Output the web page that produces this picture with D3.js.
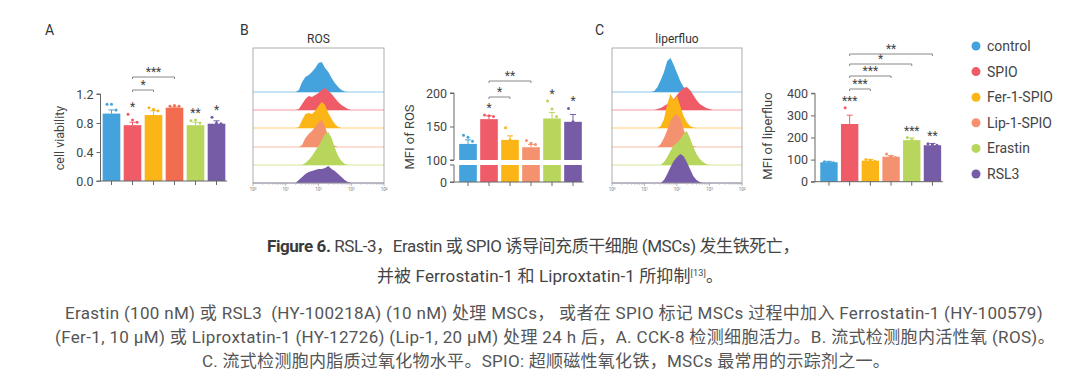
<!DOCTYPE html>
<html><head><meta charset="utf-8">
<script src="https://cdn.jsdelivr.net/npm/d3@7"></script>
<style>
body{margin:0;background:#fff;}
svg{display:block;font-family:Roboto,"Noto Sans CJK SC",sans-serif;}
text{white-space:pre;}
</style>
</head><body>
<svg id="c" width="1080" height="387"></svg>
<script>
// ---------------- DATA ----------------
const groups = ["control","SPIO","Fer-1-SPIO","Lip-1-SPIO","Erastin","RSL3"];
const colors = ["#44a3dc","#ef5c68","#fbb516","#f4916f","#b7d65b","#765ca6"];
const colorsA = ["#44a3dc","#ef5c68","#fbb516","#f26c4f","#b7d65b","#765ca6"];

// A: cell viability
const viability = [0.93,0.77,0.91,1.01,0.77,0.79];
const viabilityErr = [0.05,0.04,0.06,0.01,0.04,0.04];
const viabilityPts = [[1.06,1.06,0.98],[0.92,0.84,0.81],[1.01,0.99,0.97],[1.03,1.04,1.03],[0.83,0.84,0.80],[0.88,0.80,0.79]];
const viabilityTicks = [0,0.4,0.8,1.2];
const viabilityStars = ["","*","","","**","*"];
const viabilityBrackets = [{a:1,b:2,label:"*"},{a:1,b:3,label:"***"}];

// B: MFI of ROS
const ros = [124,161,130,119,162,157];
const rosErr = [6,5,6,4,9,11];
const rosPts = [[137,134,128],[167,166,165],[148,130,128],[129,125,123],[188,176,165],[177,157,150]];
const rosTicksUpper = [100,150,200];
const rosTicksLower = [0];
const rosStars = ["","*","","","*","*"];
const rosBrackets = [{a:1,b:2,label:"*"},{a:1,b:3,label:"**"}];

// C: MFI of liperfluo
const lipf = [88,261,95,113,188,165];
const lipfErr = [4,40,5,5,10,8];
const lipfPts = [[90,88,86],[335,240,210],[100,97,92],[125,115,110],[200,190,180],[172,168,165]];
const lipfTicks = [0,100,200,300,400];
const lipfStars = ["","***","","","***","**"];
const lipfBrackets = [{a:1,b:2,label:"***"},{a:1,b:3,label:"***"},{a:1,b:4,label:"*"},{a:1,b:5,label:"**"}];

// Flow histograms (log10 fluorescence bins, relative counts)
const logBins = [1.2,1.3,1.4,1.5,1.6,1.7,1.8,1.9,2.0,2.1,2.2,2.3,2.4,2.5,2.6,2.7,2.8,2.9,3.0,3.1];
const histROS = [
  [0,0,2,10,15,17,20,24,29,30,24,20,14,9,5,2,0.5,0,0,0],
  [0,0,1,6,11,14,13,15,17,20,22,19,16,12,8,5,3,1,0,0],
  [0,0,1,8,14,15,14,17,22,26,23,15,9,4,1,0,0,0,0,0],
  [0,0,0,2,9,13,16,20,25,27,20,11,4,1,0,0,0,0,0,0],
  [0,0,0,0,2,5,9,14,19,25,31,33,27,17,9,4,1,0,0,0],
  [0,0,3,6,9,11,12,13,14,14,15,17,14,12,9,6,3,1,0,0]
];
const histLipf = [
  [0,1,5,12,20,31,34,27,19,11,5,2,0.5,0,0,0,0,0,0,0],
  [0,0,1,2,4,6,8,11,15,19,22,23,20,15,10,6,4,2,1,0],
  [0,0,0,2,9,24,34,28,32,22,12,6,2,0.5,0,0,0,0,0,0],
  [0,0,0,3,9,17,26,31,33,28,18,9,3,1,0,0,0,0,0,0],
  [0,0,0,0,3,8,14,20,22,26,31,34,27,18,11,6,3,1,0,0],
  [0,0,0,0,3,9,16,22,26,29,27,21,14,7,3,1,0,0,0,0]
];
const decades = [0,1,2,3,4];

const captionBold = "Figure 6.";
const captionLine1 = " RSL-3，Erastin 或 SPIO 诱导间充质干细胞 (MSCs) 发生铁死亡，";
const captionLine2 = "并被 Ferrostatin-1 和 Liproxtatin-1 所抑制";
const captionRef = "[13]";
const captionEnd = "。";
const bodyLines = [
  "Erastin (100 nM) 或 RSL3  (HY-100218A) (10 nM) 处理 MSCs， 或者在 SPIO 标记 MSCs 过程中加入 Ferrostatin-1 (HY-100579)",
  "(Fer-1, 10 μM) 或 Liproxtatin-1 (HY-12726) (Lip-1, 20 μM) 处理 24 h 后，A. CCK-8 检测细胞活力。B. 流式检测胞内活性氧 (ROS)。",
  "C. 流式检测胞内脂质过氧化物水平。SPIO: 超顺磁性氧化铁，MSCs 最常用的示踪剂之一。"
];

// ---------------- DRAW ----------------
const svg = d3.select("#c");
const axisCol = "#666", textCol = "#444";

function panelLetter(x,y,t){
  svg.append("text").attr("x",x).attr("y",y).attr("font-size",14).attr("fill","#333").text(t);
}
panelLetter(45,35,"A"); panelLetter(240,35,"B"); panelLetter(595,35,"C");

function barChart(o){
  const g = svg.append("g");
  const x = d3.scaleBand().domain(d3.range(groups.length)).range(o.xr).paddingInner(0.16).paddingOuter(0.08);
  const bw = x.bandwidth();
  const segs = o.segs;
  const scales = segs.map(s=>d3.scaleLinear().domain(s.dom).range(s.rng));
  const yOf = v => { for(const sc of scales){const d=sc.domain(); if(v>=d[0]&&v<=d[1]) return sc(v);} return scales[scales.length-1](v); };
  const ax = o.axisX;
  o.vals.forEach((v,i)=>{
    scales.forEach(sc=>{
      const d=sc.domain();
      if(v<=d[0]) return;
      const top = sc(Math.min(v,d[1])), bot = sc(d[0]);
      g.append("rect").attr("x",x(i)).attr("y",top).attr("width",bw).attr("height",bot-top).attr("fill",o.colors[i]);
    });
    const cx = x(i)+bw/2;
    g.append("line").attr("x1",cx).attr("x2",cx).attr("y1",yOf(v)).attr("y2",yOf(v+o.err[i])).attr("stroke",o.colors[i]).attr("stroke-width",1);
    g.append("line").attr("x1",cx-3).attr("x2",cx+3).attr("y1",yOf(v+o.err[i])).attr("y2",yOf(v+o.err[i])).attr("stroke",o.colors[i]).attr("stroke-width",1);
    o.pts[i].forEach((p,k)=>{
      g.append("circle").attr("cx",cx+(k-1)*4.5).attr("cy",yOf(p)).attr("r",1.5).attr("fill",o.colors[i]);
    });
    if(o.stars[i]){
      const top = Math.max(v+o.err[i], d3.max(o.pts[i]));
      g.append("text").attr("x",cx).attr("y",yOf(top)-o.starOff).attr("text-anchor","middle")
        .attr("font-size",12).attr("fill",textCol).text(o.stars[i]);
    }
  });
  segs.forEach((s,si)=>{
    const ag = g.append("g").attr("transform",`translate(${ax},0)`)
      .call(d3.axisLeft(scales[si]).tickValues(s.ticks).tickSize(4).tickFormat(o.fmt));
    ag.select(".domain").attr("stroke",axisCol).attr("d",`M-4,${s.rng[0]}H0V${s.rng[1]}H-4`);
    ag.selectAll(".tick line").attr("stroke",axisCol);
    ag.selectAll(".tick text").attr("font-size",12.5).attr("fill",textCol).attr("font-family","Roboto,sans-serif");
  });
  const by = segs[0].rng[0];
  g.append("line").attr("x1",ax).attr("x2",o.xr[1]).attr("y1",by).attr("y2",by).attr("stroke",axisCol);
  groups.forEach((_,i)=>{
    const cx=x(i)+bw/2;
    g.append("line").attr("x1",cx).attr("x2",cx).attr("y1",by).attr("y2",by+4).attr("stroke",axisCol);
  });
  o.brackets.forEach((b,k)=>{
    const x1 = x(b.a)+bw/2, x2 = x(b.b)+bw/2, yy = o.brY[k];
    g.append("path").attr("d",`M${x1},${yy+2}V${yy}H${x2}V${yy+2}`).attr("fill","none").attr("stroke","#888").attr("stroke-width",1);
    g.append("text").attr("x",(x1+x2)/2).attr("y",yy-1).attr("text-anchor","middle").attr("font-size",12).attr("fill",textCol).text(b.label);
  });
  svg.append("text").attr("transform",`translate(${o.labX},${o.labY}) rotate(-90)`).attr("text-anchor","middle")
    .attr("font-size",o.labSize).attr("fill",textCol).text(o.label);
}

barChart({xr:[101,227], axisX:100.5, segs:[{dom:[0,1.2],rng:[181,94],ticks:viabilityTicks}],
  fmt:d3.format(".1f"), vals:viability, err:viabilityErr, pts:viabilityPts, colors:colorsA,
  stars:viabilityStars, starOff:3, brackets:viabilityBrackets, brY:[90,77],
  label:"cell viability", labX:64, labY:138, labSize:12.5});

barChart({xr:[457.5,583.5], axisX:454, segs:[{dom:[0,100],rng:[182,165],ticks:rosTicksLower},{dom:[100,200],rng:[160,93],ticks:rosTicksUpper}],
  fmt:d3.format("d"), vals:ros, err:rosErr, pts:rosPts, colors:colors,
  stars:rosStars, starOff:3, brackets:rosBrackets, brY:[97,81],
  label:"MFI of ROS", labX:414, labY:137, labSize:13});

barChart({xr:[818.6,942.8], axisX:815, segs:[{dom:[0,400],rng:[181.7,93.3],ticks:lipfTicks}],
  fmt:d3.format("d"), vals:lipf, err:lipfErr, pts:lipfPts, colors:colors,
  stars:lipfStars, starOff:3, brackets:lipfBrackets, brY:[89,76,64,54],
  label:"MFI of liperfluo", labX:772, labY:136, labSize:13});

function histPanel(o){
  const g = svg.append("g");
  const x = d3.scaleLinear().domain([0,4]).range(o.xr);
  const h = d3.scaleLinear().domain([0,35]).range([0,35]);
  const baselines = [92,110,128,147,165,183];
  o.data.forEach((arr,i)=>{
    const b = baselines[i];
    g.append("line").attr("x1",o.xr[0]).attr("x2",o.xr[1]).attr("y1",b).attr("y2",b).attr("stroke",colors[i]).attr("stroke-opacity",0.6).attr("stroke-width",1);
    const area = d3.area().x((d,k)=>x(logBins[k])).y0(b).y1(d=>b-h(d)).curve(d3.curveLinear);
    g.append("path").datum(arr).attr("d",area).attr("fill",colors[i]);
  });
  g.append("rect").attr("x",o.xr[0]).attr("y",48).attr("width",o.xr[1]-o.xr[0]).attr("height",135)
    .attr("fill","none").attr("stroke","#999").attr("stroke-width",0.8);
  decades.forEach(d=>{
    g.append("line").attr("x1",x(d)).attr("x2",x(d)).attr("y1",183).attr("y2",186).attr("stroke","#999").attr("stroke-width",0.7);
    const t = g.append("text").attr("x",x(d)).attr("y",191).attr("text-anchor","middle").attr("font-size",4.5).attr("fill","#777");
    t.append("tspan").text("10");
    t.append("tspan").attr("font-size",3).attr("dy",-1.5).text(String(d));
    if(d<4) [2,3,4,5,6,7,8,9].forEach(m=>{
      const xv = x(d+Math.log10(m));
      g.append("line").attr("x1",xv).attr("x2",xv).attr("y1",183).attr("y2",184.8).attr("stroke","#aaa").attr("stroke-width",0.6);
    });
  });
  svg.append("text").attr("x",(o.xr[0]+o.xr[1])/2).attr("y",43).attr("text-anchor","middle").attr("font-size",12).attr("fill","#333").text(o.title);
}
histPanel({xr:[253,384], data:histROS, title:"ROS"});
histPanel({xr:[612,742], data:histLipf, title:"liperfluo"});

groups.forEach((gname,i)=>{
  const yy = 46 + i*25.6;
  svg.append("circle").attr("cx",976).attr("cy",yy).attr("r",4.5).attr("fill",colors[i]);
  svg.append("text").attr("x",987).attr("y",yy+5).attr("font-size",14).attr("fill",textCol).text(gname);
});

function fitWidth(sel, target){
  const node = sel.node();
  const w = node.getComputedTextLength();
  const n = node.textContent.length;
  sel.attr("letter-spacing", ((target - w)/n).toFixed(3));
}

const c1 = svg.append("text").attr("x",267).attr("y",252).attr("font-size",17).attr("fill","#444");
c1.append("tspan").attr("font-weight","bold").attr("fill","#3a3a3a").text(captionBold);
c1.append("tspan").text(captionLine1);
fitWidth(c1, 532);
const c2 = svg.append("text").attr("x",377).attr("y",282).attr("font-size",17).attr("fill","#444");
c2.append("tspan").text(captionLine2);
c2.append("tspan").attr("font-size",9).attr("dy",-6).text(captionRef);
c2.append("tspan").attr("dy",6).text(captionEnd);
fitWidth(c2, 346);

const bodyStart = [65,55,202];
const bodyWidth = [978,1000,688];
bodyLines.forEach((t,i)=>{
  const s = svg.append("text").attr("x",bodyStart[i]).attr("y",319+i*24).attr("font-size",17).attr("fill","#555").text(t);
  fitWidth(s, bodyWidth[i]);
});
</script>
</body></html>
